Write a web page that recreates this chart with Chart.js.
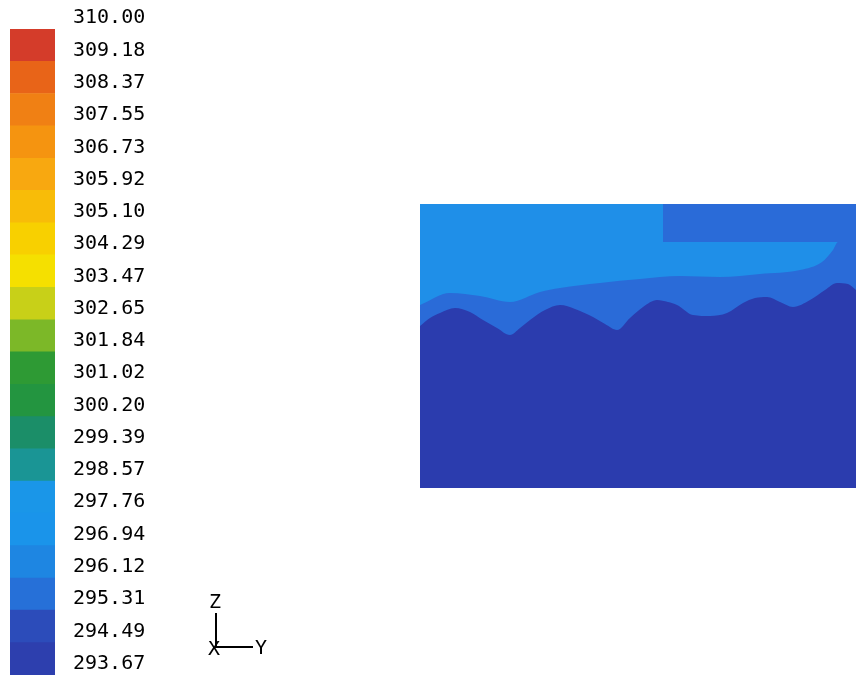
<!DOCTYPE html>
<html>
<head>
<meta charset="utf-8">
<script src="https://cdn.jsdelivr.net/npm/chart.js@4.4.1/dist/chart.umd.min.js"></script>
<style>
  html, body { margin: 0; padding: 0; background: #fff; }
  body { width: 856px; height: 681px; position: relative; overflow: hidden; }
  #barWrap { position: absolute; left: 0; top: 0; width: 300px; height: 681px; }
  #fieldWrap { position: absolute; left: 420px; top: 204px; width: 436px; height: 284px; }
</style>
</head>
<body>
<div id="barWrap"><canvas id="legendChart" width="300" height="681"></canvas></div>
<div id="fieldWrap"><canvas id="fieldChart" width="436" height="284"></canvas></div>
<script>
// contour levels (K), bottom to top
const levels = [293.67, 294.49, 295.31, 296.12, 296.94, 297.76, 298.57, 299.39, 300.20, 301.02,
                301.84, 302.65, 303.47, 304.29, 305.10, 305.92, 306.73, 307.55, 308.37, 309.18, 310.00];
const bandColors = ['#2d3fae', '#2c4cba', '#2670d8', '#1e86e2', '#1a94ea', '#1a96e8', '#1a9595',
                    '#1b8e68', '#239540', '#2e9a34', '#7cb828', '#c8d018', '#f5e000', '#f8d000',
                    '#f8bc08', '#f8a810', '#f59410', '#f08014', '#e86418', '#d43c2a'];

// field boundaries, Y and Z in mm
const darkY = [0, 10, 20, 35, 50, 63, 77, 90, 100, 110, 125, 140, 155, 173, 185, 197, 210, 223, 237,
               248, 257, 273, 290, 307, 323, 335, 347, 360, 373, 390, 405, 417, 428, 436];
const darkZ = [162, 170, 175, 180, 176, 168, 160, 153, 160, 168, 178, 183, 179, 171, 164, 158, 170, 181, 188,
               186, 183, 173, 172, 175, 185, 190, 191, 186, 181, 188, 198, 205, 204, 198];
const mediumY = [0, 30, 60, 90, 120, 140, 180, 220, 260, 300, 340, 380, 402, 413, 418, 436];
const mediumZ = [183, 195, 192, 186, 196, 200, 205, 209, 212, 211, 214, 218, 226, 238, 246, 246];
const upperY = [243, 436];
const upperZ = [284, 284];
const upperBottom = 246;
const fieldY = [0, 436];
const fieldZ = [284, 284];

const C_LIGHT = '#1f8fe8';
const C_MED = '#2a6bd8';
const C_DARK = '#2b3cae';

// small axis triad under the legend
const triad = {
  id: 'triad',
  afterDraw(chart) {
    const c = chart.ctx;
    c.save();
    c.strokeStyle = '#000';
    c.lineWidth = 2;
    c.beginPath();
    c.moveTo(216, 613);
    c.lineTo(216, 647);
    c.lineTo(253, 647);
    c.stroke();
    c.fillStyle = '#000';
    c.font = '20px "DejaVu Sans Mono"';
    c.textAlign = 'center';
    c.textBaseline = 'middle';
    c.fillText('Z', 215, 603);
    c.fillText('X', 214, 650);
    c.fillText('Y', 261, 649);
    c.restore();
  }
};

const bands = bandColors.map((col, i) => ({
  data: [[levels[i], levels[i + 1]]],
  backgroundColor: col,
  borderWidth: 0,
  barPercentage: 1,
  categoryPercentage: 1
}));

new Chart(document.getElementById('legendChart'), {
  type: 'bar',
  data: { labels: ['T'], datasets: bands },
  options: {
    responsive: false,
    animation: false,
    layout: { padding: { left: 10, top: 29, bottom: 6, right: 0 } },
    plugins: { legend: { display: false }, tooltip: { enabled: false } },
    scales: {
      x: { display: false, stacked: true },
      y: {
        position: 'right',
        min: levels[0],
        max: levels[levels.length - 1],
        grid: { display: false, drawTicks: false },
        border: { display: false },
        afterBuildTicks: s => { s.ticks = levels.map(v => ({ value: v })); },
        afterFit: s => { s.width = 245; s.paddingTop = 0; s.paddingBottom = 0; },
        ticks: {
          autoSkip: false,
          padding: 18,
          labelOffset: -11,
          color: '#000',
          font: { family: 'DejaVu Sans Mono', size: 20 },
          callback: v => Number(v).toFixed(2)
        }
      }
    }
  },
  plugins: [triad]
});

const pts = (xs, ys) => xs.map((x, i) => ({ x: x, y: ys[i] }));
const area = (data, fill, color) => ({
  data: data,
  showLine: true,
  fill: fill,
  backgroundColor: color,
  borderColor: 'rgba(0,0,0,0)',
  borderWidth: 0,
  pointRadius: 0,
  cubicInterpolationMode: 'monotone'
});

new Chart(document.getElementById('fieldChart'), {
  type: 'scatter',
  data: {
    datasets: [
      area(pts(darkY, darkZ), 'start', C_DARK),
      area(pts(upperY, upperZ), { value: upperBottom }, C_MED),
      area(pts(mediumY, mediumZ), 'start', C_MED),
      area(pts(fieldY, fieldZ), 'start', C_LIGHT)
    ]
  },
  options: {
    responsive: false,
    animation: false,
    layout: { padding: 0 },
    plugins: { legend: { display: false }, tooltip: { enabled: false } },
    scales: {
      x: { type: 'linear', min: 0, max: 436, display: false },
      y: { min: 0, max: 284, display: false }
    }
  }
});
</script>
</body>
</html>
